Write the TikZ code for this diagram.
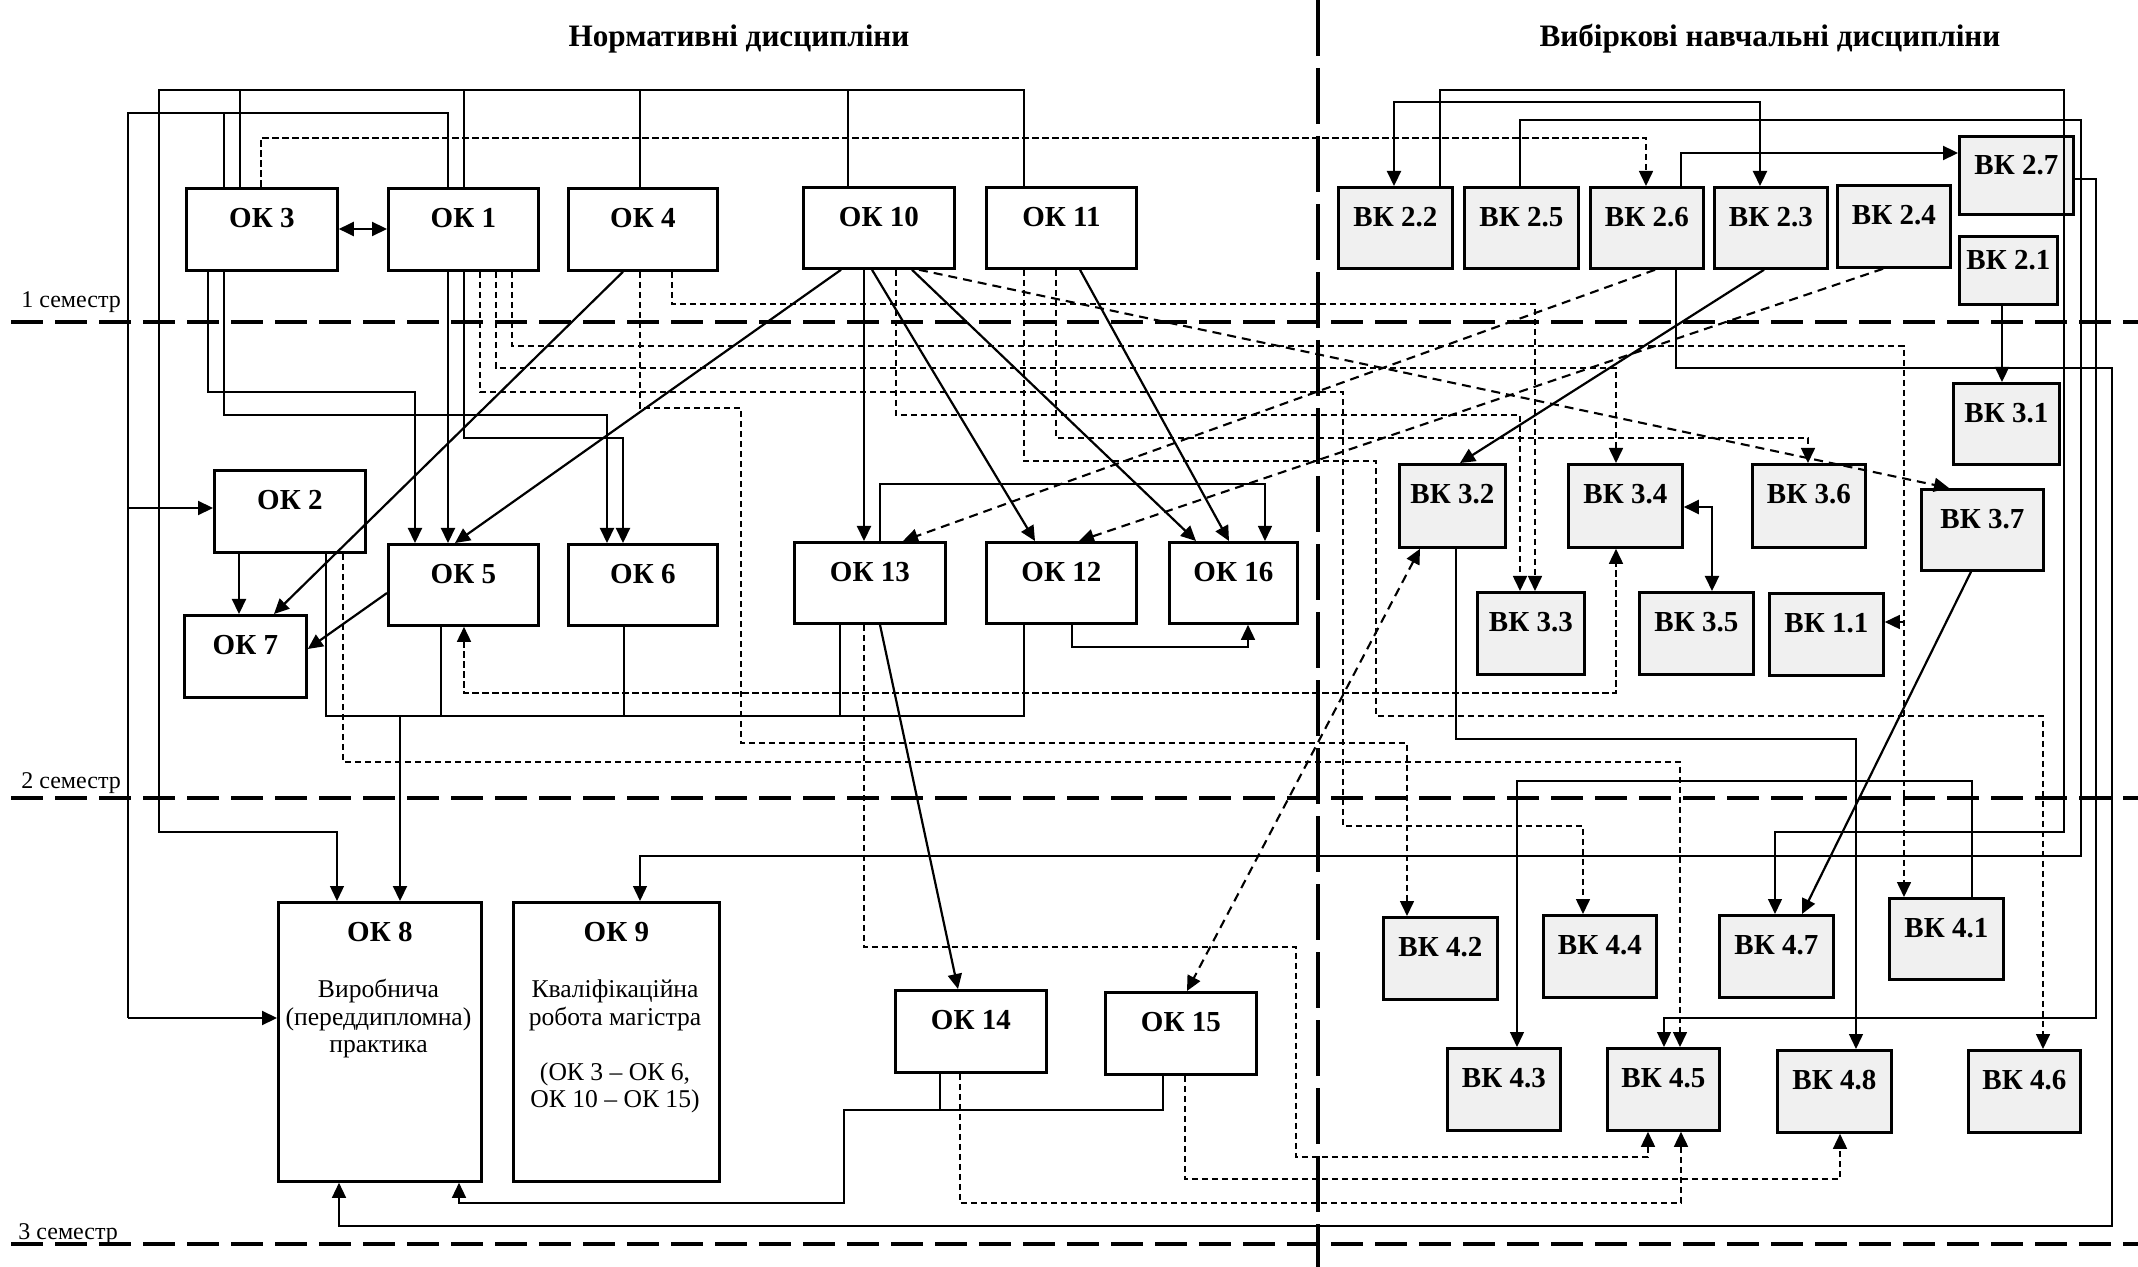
\documentclass[tikz,border=0pt]{standalone}
\usepackage{fontspec}
\setmainfont{Liberation Serif}
\usetikzlibrary{arrows.meta}
\tikzset{
  bx/.style={draw, line width=1.4pt, fill=white, inner sep=0pt, font=\fontsize{14.5}{17}\selectfont\bfseries},
  vk/.style={bx, fill=black!6},
  thn/.style={line width=0.7pt},
  thk/.style={line width=1.1pt},
  dsh/.style={line width=0.8pt, dash pattern=on 3.25pt off 1.75pt},
  dshk/.style={line width=1.05pt, dash pattern=on 4.5pt off 3pt},
  ar/.style={-{Triangle[length=7.5pt,width=7pt]}},
  arb/.style={{Triangle[length=7.5pt,width=7pt]}-{Triangle[length=7.5pt,width=7pt]}},
  sem/.style={line width=2pt, dash pattern=on 16pt off 6pt},
  divl/.style={line width=2pt, dash pattern=on 28pt off 6pt},
  txt/.style={font=\fontsize{12.8}{14}\selectfont, anchor=base, inner sep=0pt},
  semtxt/.style={font=\fontsize{12}{14}\selectfont, anchor=base west, inner sep=0pt},
  hdr/.style={font=\fontsize{15.6}{18}\selectfont\bfseries, anchor=base, inner sep=0pt},
}
\newcommand\mkbox[8]{\node[#1, anchor=north west, minimum width={#5*0.5pt}, minimum height={#6*0.5pt}, text height=10pt, text depth={(#6+20-2*#7)*0.5pt}] (#2) at (#3,#4) {#8};}
\begin{document}
\begin{tikzpicture}[x=0.5pt,y=-0.5pt]
\useasboundingbox (0,0) rectangle (2138,1267);
\fill[white] (0,0) rectangle (2138,1267);

% headers and semesters
\node[hdr] (h1) at (739,47) {Нормативні дисципліни};
\node[hdr] (h2) at (1770,47) {Вибіркові навчальні дисципліни};
\draw[divl] (1318,0) -- (1318,1267);
\draw[sem] (11,322) -- (2138,322);
\draw[sem] (11,798) -- (2138,798);
\draw[sem] (11,1244) -- (2138,1244);
\node[semtxt] (s1) at (21,308) {1 семестр};
\node[semtxt] (s2) at (21,788) {2 семестр};
\node[semtxt] (s3) at (18,1239) {3 семестр};

% OK boxes
\mkbox{bx}{ok3}{185}{187}{151}{82}{39}{ОК 3}
\mkbox{bx}{ok1}{387}{187}{150}{82}{39}{ОК 1}
\mkbox{bx}{ok4}{567}{187}{149}{82}{39}{ОК 4}
\mkbox{bx}{ok10}{802}{186}{151}{81}{39}{ОК 10}
\mkbox{bx}{ok11}{985}{186}{150}{81}{39}{ОК 11}
\mkbox{bx}{ok2}{213}{469}{151}{82}{39}{ОК 2}
\mkbox{bx}{ok7}{183}{614}{122}{82}{39}{ОК 7}
\mkbox{bx}{ok5}{387}{543}{150}{81}{39}{ОК 5}
\mkbox{bx}{ok6}{567}{543}{149}{81}{39}{ОК 6}
\mkbox{bx}{ok13}{793}{541}{151}{81}{39}{ОК 13}
\mkbox{bx}{ok12}{985}{541}{150}{81}{39}{ОК 12}
\mkbox{bx}{ok16}{1168}{541}{128}{81}{39}{ОК 16}
\mkbox{bx}{ok8}{277}{901}{203}{279}{39}{ОК 8}
\mkbox{bx}{ok9}{512}{901}{206}{279}{39}{ОК 9}
\mkbox{bx}{ok14}{894}{989}{151}{82}{39}{ОК 14}
\mkbox{bx}{ok15}{1104}{991}{151}{82}{39}{ОК 15}
\node[txt] (ok8a) at (378.5,997) {Виробнича};
\node[txt] (ok8b) at (378.5,1025) {(переддипломна)};
\node[txt] (ok8c) at (378.5,1052) {практика};
\node[txt] (ok9a) at (615,997) {Кваліфікаційна};
\node[txt] (ok9b) at (615,1025) {робота магістра};
\node[txt] (ok9c) at (615,1080) {(ОК 3 – ОК 6,};
\node[txt] (ok9d) at (615,1107) {ОК 10 – ОК 15)};

% VK boxes
\mkbox{vk}{vk22}{1337}{186}{114}{81}{39}{ВК 2.2}
\mkbox{vk}{vk25}{1463}{186}{114}{81}{39}{ВК 2.5}
\mkbox{vk}{vk26}{1589}{186}{113}{81}{39}{ВК 2.6}
\mkbox{vk}{vk23}{1713}{186}{113}{81}{39}{ВК 2.3}
\mkbox{vk}{vk24}{1836}{184}{113}{82}{39}{ВК 2.4}
\mkbox{vk}{vk27}{1958}{135}{114}{78}{38}{ВК 2.7}
\mkbox{vk}{vk21}{1958}{235}{98}{68}{33}{ВК 2.1}
\mkbox{vk}{vk31}{1952}{382}{106}{81}{39}{ВК 3.1}
\mkbox{vk}{vk32}{1398}{463}{106}{83}{39}{ВК 3.2}
\mkbox{vk}{vk34}{1567}{463}{114}{83}{39}{ВК 3.4}
\mkbox{vk}{vk36}{1751}{463}{113}{83}{39}{ВК 3.6}
\mkbox{vk}{vk37}{1920}{488}{122}{81}{39}{ВК 3.7}
\mkbox{vk}{vk33}{1476}{591}{107}{82}{39}{ВК 3.3}
\mkbox{vk}{vk35}{1638}{591}{114}{82}{39}{ВК 3.5}
\mkbox{vk}{vk11}{1768}{592}{114}{82}{39}{ВК 1.1}
\mkbox{vk}{vk42}{1382}{916}{114}{82}{39}{ВК 4.2}
\mkbox{vk}{vk44}{1542}{914}{113}{82}{39}{ВК 4.4}
\mkbox{vk}{vk47}{1718}{914}{114}{82}{39}{ВК 4.7}
\mkbox{vk}{vk41}{1888}{897}{114}{81}{39}{ВК 4.1}
\mkbox{vk}{vk43}{1446}{1047}{113}{82}{39}{ВК 4.3}
\mkbox{vk}{vk45}{1606}{1047}{112}{82}{39}{ВК 4.5}
\mkbox{vk}{vk48}{1776}{1049}{114}{82}{39}{ВК 4.8}
\mkbox{vk}{vk46}{1967}{1049}{112}{82}{39}{ВК 4.6}

% ---- left top buses
\draw[thn,ar] (ok11.north -| 1024,0) |- (159,90) -- (159,832) -| (ok8.north -| 337,0);
\draw[thn] (ok3.north -| 240,0) -- (240,90) (ok1.north -| 464,0) -- (464,90)
  (ok4.north -| 640,0) -- (640,90) (ok10.north -| 848,0) -- (848,90);
\draw[thn] (ok1.north -| 448,0) |- (128,113) -- (128,1018);
\draw[thn] (ok3.north -| 224,0) -- (224,113);
\draw[thk,ar] (128,1018) -- (ok8.west |- 0,1018);
\draw[thk,ar] (128,508) -- (ok2.west |- 0,508);
\draw[dsh,ar] (ok3.north -| 261,0) |- (1646,138) -- (vk26.north -| 1646,0);
\draw[thk,arb] (ok3.east |- 0,229) -- (ok1.west |- 0,229);

% OK3, OK1 downwards
\draw[thk,ar] (ok3.south -| 208,0) |- (415,392) -- (ok5.north -| 415,0);
\draw[thk,ar] (ok3.south -| 224,0) |- (607,415) -- (ok6.north -| 607,0);
\draw[thk,ar] (ok1.south -| 448,0) -- (ok5.north -| 448,0);
\draw[thk,ar] (ok1.south -| 464,0) |- (623,438) -- (ok6.north -| 623,0);
\draw[dsh,ar] (ok1.south -| 480,0) |- (1343,392) -- (1343,826) -| (vk44.north -| 1583,0);
\draw[dsh,ar] (ok1.south -| 496,0) |- (1616,368) -- (vk34.north -| 1616,0);
\draw[dsh,ar] (ok1.south -| 512,0) |- (1904,346) -- (vk41.north -| 1904,0);
\draw[dsh,ar] (1904,622) -- (vk11.east |- 0,622);

% OK4
\draw[dsh,ar] (ok4.south -| 640,0) |- (741,408) |- (1407,743) -- (vk42.north -| 1407,0);
\draw[dsh,ar] (ok4.south -| 672,0) |- (1535,304) -- (vk33.north -| 1535,0);
\draw[thk,ar] (ok4.south -| 623,0) -- (ok7.north -| 274,0);

% OK10
\draw[thk,ar] (ok10.south -| 841,0) -- (ok5.north -| 455,0);
\draw[thk,ar] (ok10.south -| 864,0) -- (ok13.north -| 864,0);
\draw[thk,ar] (ok10.south -| 872,0) -- (ok12.north -| 1035,0);
\draw[thk,ar] (ok10.south -| 912,0) -- (ok16.north -| 1196,0);
\draw[dshk,ar] (ok10.south -| 919,0) -- (vk37.north -| 1949,0);
\draw[dsh,ar] (ok10.south -| 896,0) |- (1520,415) -- (vk33.north -| 1520,0);

% OK11
\draw[dsh,ar] (ok11.south -| 1024,0) |- (1376,461) |- (2043,716) -- (vk46.north -| 2043,0);
\draw[dsh,ar] (ok11.south -| 1056,0) |- (1808,438) -- (vk36.north -| 1808,0);
\draw[thk,ar] (ok11.south -| 1080,0) -- (ok16.north -| 1229,0);

% OK2, OK5, OK6, OK13, OK12 -> OK8
\draw[thk,ar] (ok2.south -| 239,0) -- (ok7.north -| 239,0);
\draw[thk,ar] (ok5.west |- 0,593) -- (ok7.east |- 0,649);
\draw[thn] (ok2.south -| 326,0) |- (1024,716) -- (ok12.south -| 1024,0);
\draw[thn] (ok5.south -| 441,0) -- (441,716) (ok6.south -| 624,0) -- (624,716)
  (ok13.south -| 840,0) -- (840,716);
\draw[thk,ar] (400,716) -- (ok8.north -| 400,0);
\draw[dsh,ar] (ok2.south -| 343,0) |- (1680,762) -- (vk45.north -| 1680,0);
\draw[dsh,arb] (ok5.south -| 464,0) |- (1616,693) -- (vk34.south -| 1616,0);

% OK13, OK12
\draw[thn,ar] (ok13.north -| 880,0) |- (1265,484) -- (ok16.north -| 1265,0);
\draw[dsh,ar] (ok13.south -| 864,0) |- (1296,947) |- (1648,1157) -- (vk45.south -| 1648,0);
\draw[thk,ar] (ok13.south -| 880,0) -- (ok14.north -| 958,0);
\draw[thn,ar] (ok12.south -| 1072,0) |- (1248,647) -- (ok16.south -| 1248,0);

% OK14, OK15
\draw[thn] (ok14.south -| 940,0) -- (940,1110);
\draw[thn,ar] (ok15.south -| 1163,0) |- (844,1110) |- (459,1203) -- (ok8.south -| 459,0);
\draw[dsh,ar] (ok14.south -| 960,0) |- (1681,1203) -- (vk45.south -| 1681,0);
\draw[dsh,ar] (ok15.south -| 1185,0) |- (1840,1179) -- (vk48.south -| 1840,0);
\draw[dshk,arb] (vk32.south -| 1420,0) -- (ok15.north -| 1187,0);

% VK connections
\draw[thn,ar] (vk22.north -| 1440,0) |- (2064,90) |- (1775,832) -- (vk47.north -| 1775,0);
\draw[thk,arb] (vk22.north -| 1394,0) |- (1760,102) -- (vk23.north -| 1760,0);
\draw[thn,ar] (vk25.north -| 1520,0) |- (2081,120) |- (640,856) -- (ok9.north -| 640,0);
\draw[thk,ar] (vk26.north -| 1681,0) |- (vk27.west |- 0,153);
\draw[dshk,ar] (vk26.south -| 1655,0) -- (ok13.north -| 903,0);
\draw[thn,ar] (vk26.south -| 1676,0) |- (2112,368) |- (339,1226) -- (ok8.south -| 339,0);
\draw[thk,ar] (vk23.south -| 1764,0) -- (vk32.north -| 1460,0);
\draw[dshk,ar] (vk24.south -| 1883,0) -- (ok12.north -| 1079,0);
\draw[thn,ar] (vk27.east |- 0,179) -| (2096,1018) -| (vk45.north -| 1664,0);
\draw[thk,ar] (vk21.south -| 2002,0) -- (vk31.north -| 2002,0);
\draw[thk,arb] (vk34.east |- 0,507) -| (vk35.north -| 1712,0);
\draw[thn,ar] (vk32.south -| 1456,0) |- (1856,739) -- (vk48.north -| 1856,0);
\draw[thk,ar] (vk37.south -| 1971,0) -- (vk47.north -| 1802,0);
\draw[thn,ar] (vk41.north -| 1972,0) |- (1517,781) -- (vk43.north -| 1517,0);
\end{tikzpicture}
\end{document}
